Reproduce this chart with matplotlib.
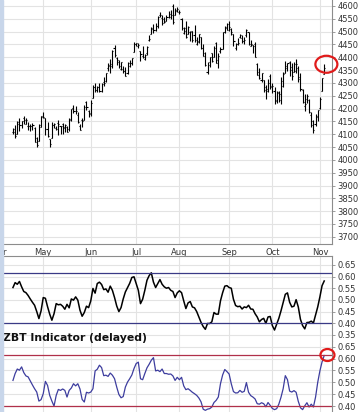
import numpy as np
import matplotlib
matplotlib.use("Agg")
import matplotlib.pyplot as plt
import matplotlib.patches as patches

plt.rcParams['font.family'] = ['DejaVu Sans']

# trading days, 2023-04-11 .. 2023-11-03
start_day = '2023-04-11'
end_day = '2023-11-04'
holidays = ['2023-04-07', '2023-05-29', '2023-06-19', '2023-07-04', '2023-09-04']

month_starts = ['2023-04-01', '2023-05-01', '2023-06-01', '2023-07-01',
                '2023-08-01', '2023-09-01', '2023-10-01', '2023-11-01']
month_labels = ['Apr', 'May', 'Jun', 'Jul', 'Aug', 'Sep', 'Oct', 'Nov']

# daily bars (Apr / May / Jun / Jul / Aug / Sep / Oct / Nov)
opens = [
    4110, 4121, 4100, 4140, 4137, 4164, 4140, 4131, 4133, 4133, 4126, 4087, 4075, 4129,
    4166, 4165, 4122, 4082, 4084, 4136, 4125, 4143, 4133, 4139, 4127, 4128, 4122, 4157, 4204, 4191, 4176, 4133, 4156, 4157, 4226, 4191,
    4184, 4241, 4283, 4271, 4285, 4268, 4305, 4308, 4359, 4366, 4366, 4437, 4397, 4381, 4356, 4355, 4345, 4338, 4367, 4378, 4422,
    4450, 4443, 4423, 4405, 4394, 4415, 4467, 4492, 4514, 4508, 4522, 4563, 4554, 4550, 4543, 4556, 4558, 4598, 4566, 4585,
    4578, 4550, 4495, 4514, 4491, 4498, 4501, 4487, 4451, 4458, 4479, 4434, 4417, 4344, 4381, 4416, 4402, 4455, 4389, 4426, 4432, 4500, 4517,
    4530, 4510, 4490, 4434, 4451, 4480, 4473, 4462, 4487, 4497, 4445, 4446, 4453, 4374, 4341, 4311, 4312, 4283, 4270, 4328,
    4285, 4270, 4233, 4260, 4234, 4289, 4339, 4366, 4380, 4360, 4343, 4346, 4357, 4321, 4273, 4210, 4236, 4233, 4176, 4152, 4140, 4171,
    4201, 4268, 4335,
]
highs = [
    4124, 4134, 4150, 4163, 4152, 4170, 4163, 4148, 4138, 4142, 4127, 4089, 4138, 4170,
    4186, 4165, 4148, 4083, 4147, 4143, 4130, 4154, 4133, 4143, 4141, 4130, 4164, 4198, 4213, 4210, 4186, 4141, 4165, 4213, 4231, 4195,
    4233, 4290, 4299, 4288, 4299, 4299, 4323, 4340, 4376, 4392, 4428, 4448, 4400, 4389, 4382, 4366, 4363, 4380, 4390, 4398, 4458,
    4456, 4455, 4423, 4443, 4412, 4443, 4488, 4517, 4528, 4532, 4562, 4578, 4565, 4555, 4563, 4580, 4583, 4607, 4591, 4595,
    4584, 4551, 4519, 4540, 4520, 4504, 4502, 4527, 4477, 4490, 4479, 4450, 4421, 4381, 4401, 4418, 4443, 4458, 4418, 4439, 4500, 4521, 4532,
    4541, 4515, 4491, 4457, 4473, 4491, 4487, 4479, 4510, 4497, 4466, 4449, 4461, 4376, 4357, 4338, 4313, 4292, 4317, 4333,
    4300, 4282, 4269, 4267, 4324, 4341, 4385, 4378, 4385, 4377, 4383, 4394, 4364, 4340, 4276, 4255, 4257, 4237, 4186, 4156, 4177, 4195,
    4245, 4319, 4374,
]
lows = [
    4102, 4086, 4100, 4113, 4124, 4140, 4140, 4115, 4114, 4117, 4071, 4050, 4075, 4127,
    4164, 4098, 4088, 4049, 4084, 4124, 4116, 4098, 4100, 4099, 4110, 4109, 4114, 4153, 4181, 4180, 4145, 4115, 4129, 4155, 4193, 4166,
    4170, 4241, 4263, 4264, 4264, 4265, 4288, 4304, 4346, 4338, 4357, 4400, 4368, 4357, 4352, 4340, 4328, 4336, 4361, 4371, 4422,
    4443, 4437, 4385, 4398, 4389, 4408, 4463, 4489, 4493, 4504, 4514, 4557, 4527, 4532, 4541, 4553, 4547, 4528, 4563, 4578,
    4567, 4505, 4491, 4474, 4491, 4464, 4461, 4458, 4448, 4454, 4432, 4404, 4364, 4335, 4361, 4382, 4400, 4376, 4357, 4415, 4431, 4493, 4507,
    4501, 4485, 4443, 4430, 4448, 4474, 4457, 4453, 4478, 4448, 4442, 4416, 4402, 4329, 4316, 4302, 4265, 4239, 4264, 4275,
    4260, 4217, 4220, 4225, 4219, 4284, 4339, 4346, 4325, 4311, 4343, 4338, 4304, 4268, 4223, 4190, 4221, 4181, 4127, 4103, 4132, 4153,
    4197, 4268, 4335,
]
closes = [
    4109, 4092, 4146, 4137, 4151, 4154, 4155, 4130, 4133, 4137, 4071, 4056, 4135, 4169,
    4167, 4119, 4091, 4061, 4136, 4138, 4119, 4138, 4130, 4124, 4136, 4110, 4158, 4198, 4192, 4192, 4146, 4115, 4151, 4205, 4206, 4180,
    4221, 4282, 4273, 4283, 4268, 4294, 4299, 4338, 4369, 4373, 4426, 4410, 4389, 4366, 4381, 4348, 4328, 4378, 4377, 4396, 4450,
    4455, 4447, 4412, 4399, 4410, 4439, 4472, 4510, 4505, 4523, 4555, 4566, 4535, 4536, 4555, 4567, 4566, 4537, 4582, 4589,
    4577, 4513, 4502, 4478, 4518, 4499, 4468, 4469, 4464, 4490, 4437, 4404, 4370, 4370, 4400, 4387, 4436, 4376, 4406, 4433, 4497, 4514, 4508,
    4516, 4497, 4465, 4451, 4457, 4487, 4462, 4467, 4505, 4450, 4453, 4444, 4402, 4330, 4320, 4337, 4274, 4275, 4300, 4288,
    4288, 4229, 4263, 4258, 4308, 4336, 4358, 4377, 4349, 4327, 4374, 4373, 4315, 4278, 4224, 4217, 4248, 4186, 4137, 4117, 4167, 4194,
    4238, 4318, 4358,
]

zbt = [
    .553, .574, .567, .579, .556, .536, .531, .519, .504, .490,
    .477, .450, .420, .453, .510, .507, .471, .439, .413, .441,
    .484, .479, .481, .473, .460, .481, .466, .504, .499, .513,
    .499, .456, .430, .446, .473, .467, .496, .549, .529, .570,
    .576, .566, .544, .547, .533, .559, .541, .510, .474, .450,
    .467, .504, .534, .553, .571, .596, .599, .570, .541, .484,
    .503, .541, .584, .604, .616, .576, .553, .570, .587, .567,
    .556, .550, .553, .541, .536, .510, .530, .539, .531, .496,
    .463, .487, .493, .470, .466, .450, .427, .404, .386, .374,
    .399, .399, .406, .446, .439, .439, .496, .531, .559, .561,
    .553, .550, .503, .476, .471, .473, .461, .470, .467, .477,
    .461, .460, .441, .427, .406, .416, .421, .399, .427, .429,
    .390, .371, .396, .421, .453, .489, .524, .530, .490, .470,
    .473, .501, .470, .417, .390, .376, .403, .404, .409, .401,
    .436, .470, .513, .561, .581,
]
zbt_delayed = [
    .508, .537, .556, .551, .565, .541, .527, .523, .506, .489,
    .473, .459, .421, .427, .452, .504, .487, .445, .421, .400,
    .445, .470, .466, .472, .466, .438, .466, .476, .494, .485,
    .494, .472, .428, .417, .458, .455, .459, .473, .548, .555,
    .572, .562, .528, .530, .525, .539, .530, .515, .480, .449,
    .435, .440, .480, .501, .515, .531, .558, .579, .585, .515,
    .511, .537, .561, .576, .593, .604, .548, .551, .545, .556,
    .537, .537, .534, .535, .527, .508, .521, .511, .521, .485,
    .469, .473, .466, .458, .452, .445, .434, .418, .387, .382,
    .387, .389, .396, .415, .424, .438, .494, .531, .554, .545,
    .535, .494, .461, .455, .456, .466, .458, .462, .499, .458,
    .444, .438, .430, .410, .408, .414, .410, .397, .415, .403,
    .390, .385, .389, .408, .437, .473, .528, .511, .463, .459,
    .465, .458, .420, .393, .385, .401, .414, .396, .408, .396,
    .438, .500, .548, .586, .613,
]
upper_level = 0.615
lower_level = 0.40

n = len(closes)
assert len(opens) == len(highs) == len(lows) == n == len(zbt) == len(zbt_delayed)
x = np.arange(n)
month_pos = np.busday_count(start_day, month_starts, holidays=holidays)

W, H = 361, 412
fig = plt.figure(figsize=(W / 100, H / 100), dpi=100)


def px_axes(left, top, right, bottom):
    return fig.add_axes([left / W, 1 - bottom / H, (right - left) / W, (bottom - top) / H])


ax = px_axes(0, 0, 332, 244)
ax1 = px_axes(0, 256, 332, 341)
ax2 = px_axes(0, 341, 332, 412)

xmin, xmax = -5.35, 147.6
grid_col = '#e3e3e3'
spine_col = '#8c8c8c'
text_col = '#333333'


def style(a, ylim, yticks, fmt, spines):
    a.set_xlim(xmin, xmax)
    a.set_ylim(*ylim)
    a.set_yticks(yticks)
    a.set_yticklabels([fmt.format(v) for v in yticks])
    a.yaxis.tick_right()
    a.set_xticks(month_pos)
    a.grid(True, color=grid_col, lw=0.8)
    a.set_axisbelow(True)
    for s in ['left', 'right', 'top', 'bottom']:
        a.spines[s].set_visible(s in spines)
        a.spines[s].set_color(spine_col)
        a.spines[s].set_linewidth(0.8)
    a.tick_params(axis='y', length=2.5, width=0.6, color=spine_col,
                  labelsize=6, labelcolor=text_col, pad=1.5)
    a.tick_params(axis='x', length=0, labelsize=6, labelcolor=text_col, pad=3)
    a.set_facecolor('white')


# price bars
style(ax, (3672, 4623), np.arange(3700, 4601, 50), '{:.0f}', ['right', 'bottom'])
ax.set_xticklabels(month_labels)
ax.vlines(x, lows, highs, color='black', lw=0.8)
ax.hlines(opens, x - 0.5, x, color='black', lw=0.8)
ax.hlines(closes, x, x + 0.5, color='black', lw=0.8)

# indicator
style(ax1, (0.324, 0.688), np.arange(0.35, 0.651, 0.05), '{:.2f}', ['right', 'top'])
ax1.set_xticklabels([])
ax1.plot(x, zbt, color='black', lw=1.1)
ax1.axhline(upper_level, color='#3a3a86', lw=0.9)
ax1.axhline(lower_level, color='#3a3a86', lw=0.9)

# delayed indicator
style(ax2, (0.375, 0.674), np.arange(0.40, 0.651, 0.05), '{:.2f}', ['right'])
ax2.set_xticklabels([])
ax2.plot(x, zbt_delayed, color='#3d3d9e', lw=0.9)
ax2.axhline(upper_level, color='#b0304a', lw=0.9)
ax2.axhline(lower_level, color='#b0304a', lw=0.9)

fig.text(3 / W, 1 - 338 / H, 'ZBT Indicator (delayed)', fontsize=7.8,
         fontweight='bold', ha='left', va='center', color='#111111')

# red rings around the last bar / last reading
def ring(a, cx, cy, w_px, h_px):
    x0, x1 = a.get_xlim()
    y0, y1 = a.get_ylim()
    bb = a.get_position()
    w = w_px / (bb.width * W) * (x1 - x0)
    h = h_px / (bb.height * H) * (y1 - y0)
    a.add_patch(patches.Ellipse((cx, cy), w, h, fill=False, ec='#e01b1b',
                                lw=1.6, clip_on=False, zorder=5))


ring(ax, x[-1] + 1, (highs[-1] + lows[-1]) / 2 + 18, 22, 17)
ring(ax2, x[-1] + 1.5, zbt_delayed[-1] + 0.002, 14, 12)

# light blue page edge on the left
fig.patches.append(patches.Rectangle((0, 0), 3 / W, 1, transform=fig.transFigure,
                                     color='#c8d6ea', zorder=10))

fig.savefig('out.png', dpi=100)
